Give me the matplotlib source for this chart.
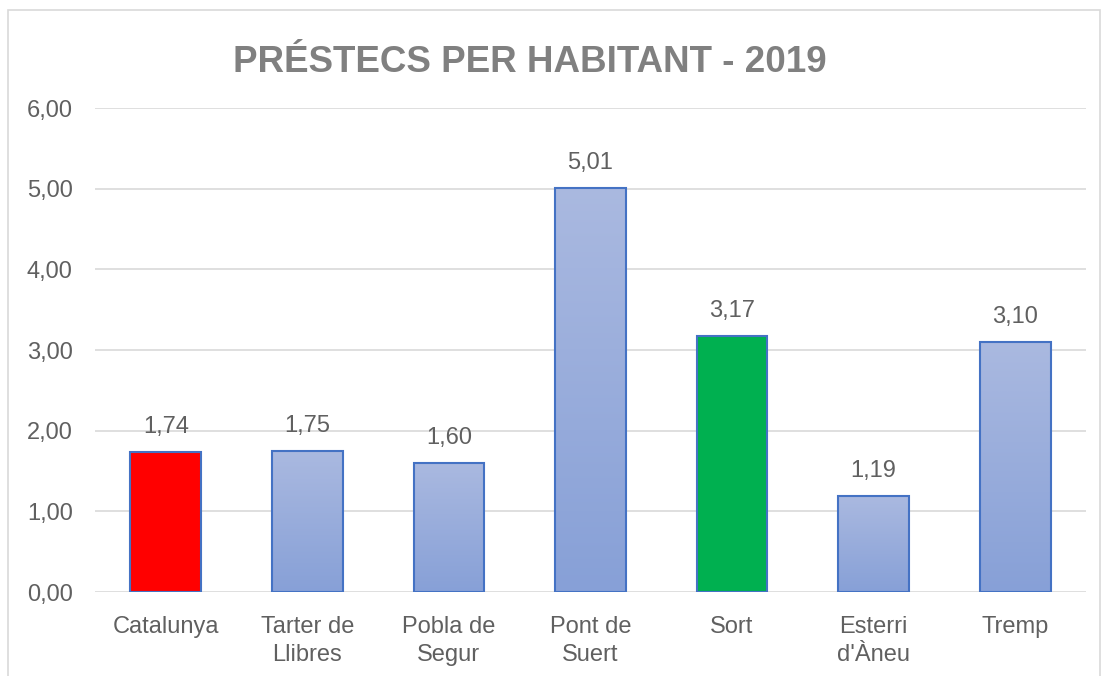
import matplotlib
matplotlib.use("Agg")
import matplotlib.pyplot as plt
import numpy as np
from matplotlib.patches import Rectangle
from matplotlib.colors import LinearSegmentedColormap

categories = ["Catalunya", "Tarter de\nLlibres", "Pobla de\nSegur", "Pont de\nSuert", "Sort", "Esterri\nd'Àneu", "Tremp"]
values = [1.74, 1.75, 1.60, 5.01, 3.17, 1.19, 3.10]
value_labels = ["1,74", "1,75", "1,60", "5,01", "3,17", "1,19", "3,10"]
yticks = [0, 1, 2, 3, 4, 5, 6]
ytick_labels = ["0,00", "1,00", "2,00", "3,00", "4,00", "5,00", "6,00"]
solid_colors = {0: "#FF0000", 4: "#00B050"}

plt.rcParams['font.family'] = ['Liberation Sans', 'DejaVu Sans']

fig = plt.figure(figsize=(11.03, 6.76), dpi=100)
fig.patches.append(Rectangle((8/1103, -0.01), (1100-8)/1103, (676-10)/676 + 0.01, transform=fig.transFigure,
                             fill=False, edgecolor="#D9D9D9", linewidth=1.2))
ax = fig.add_axes([95/1103, 1 - 592/676, (1086-95)/1103, (592-108)/676])

x = np.arange(len(categories))
bars = ax.bar(x, values, width=0.5, color="none", edgecolor="#4472C4", linewidth=1.5, zorder=3)

grad = np.linspace(0, 1, 256).reshape(-1, 1)
cmap = LinearSegmentedColormap.from_list("g", ["#87A0D7", "#AAB9E0"])
for i, b in enumerate(bars):
    if i in solid_colors:
        b.set_facecolor(solid_colors[i])
    else:
        im = ax.imshow(grad, cmap=cmap, aspect="auto", origin="lower",
                       extent=(b.get_x(), b.get_x() + b.get_width(), 0, b.get_height()), zorder=2)
        im.set_clip_path(b)

for i, (v, lab) in enumerate(zip(values, value_labels)):
    ax.annotate(lab, (x[i], v), xytext=(0, 10), textcoords="offset points", ha="center", va="bottom",
                fontsize=17, color="#606060")

ax.set_xlim(-0.5, len(categories) - 0.5)
ax.set_ylim(0, 6)
ax.set_yticks(yticks)
ax.set_yticklabels(ytick_labels, fontsize=17, color="#606060")
ax.set_xticks(x)
ax.set_xticklabels(categories, fontsize=17, color="#606060", linespacing=1.38)
ax.tick_params(axis="both", length=0)
ax.tick_params(axis="y", pad=16)
ax.tick_params(axis="x", pad=17)
ax.grid(axis="y", color="#D9D9D9", linewidth=1.2, zorder=0)
for s in ax.spines.values():
    s.set_visible(False)
ax.set_axisbelow(True)

fig.text(530/1103, 1 - 62/676, "PRÉSTECS PER HABITANT - 2019", ha="center", va="center",
         fontsize=26.5, fontweight="bold", color="#808080")

fig.savefig("out.png", dpi=100)
